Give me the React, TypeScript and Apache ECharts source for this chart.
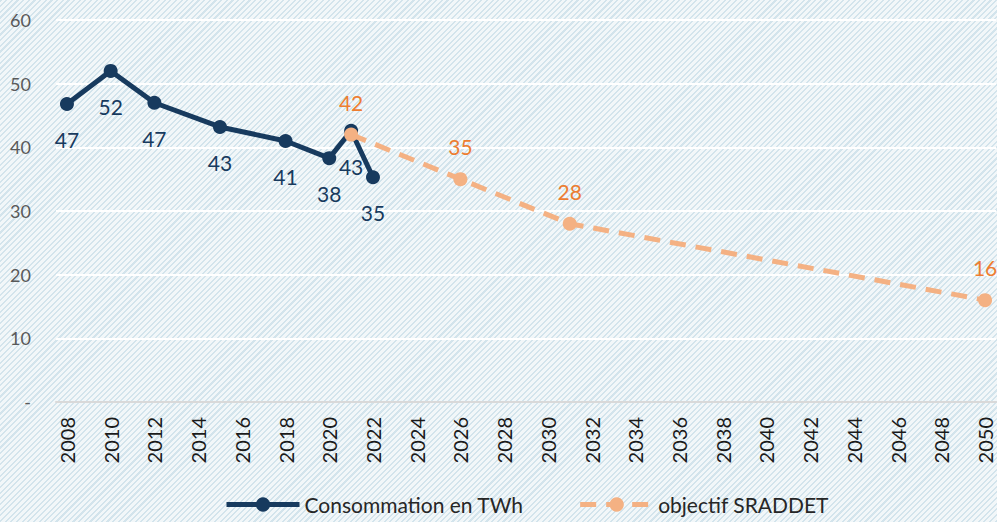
import React, { useEffect, useRef } from "react";
import * as echarts from "echarts";

const years: string[] = [];
for (let y = 2008; y <= 2050; y++) years.push(String(y));

const consoYears = ["2008", "2010", "2012", "2015", "2018", "2020", "2021", "2022"];
const consoValues = [46.8, 52, 47, 43.2, 41, 38.3, 42.6, 35.3];

const objYears = ["2021", "2026", "2031", "2050"];
const objValues = [42, 35, 28, 16];

const NAVY = "#173A5E";
const ORANGE_LINE = "#F4B183";
const ORANGE_TEXT = "#ED7D31";
const FONT = "Lato, 'Liberation Sans', sans-serif";

function toSeries(ys: string[], vs: number[]) {
  return years.map((y) => {
    const i = ys.indexOf(y);
    return i >= 0 ? vs[i] : null;
  });
}

export default function App() {
  const ref = useRef<HTMLDivElement>(null);
  useEffect(() => {
    if (!ref.current) return;
    const chart = echarts.init(ref.current, undefined, { renderer: "svg" });
    chart.setOption({
      animation: false,
      backgroundColor: "transparent",
      textStyle: { fontFamily: FONT },
      grid: { left: 56, right: 1, top: 20, bottom: 120, containLabel: false },
      legend: {
        top: 494,
        left: 224,
        padding: 0,
        itemWidth: 73,
        itemHeight: 18,
        itemGap: 54,
        lineStyle: { width: 5 },
        textStyle: { fontSize: 21, color: "#262626", fontFamily: FONT },
        data: ["Consommation en TWh", "objectif SRADDET"],
      },
      xAxis: {
        type: "category",
        data: years,
        boundaryGap: true,
        axisLine: { show: true, lineStyle: { color: "#D9D9D9", width: 2 } },
        axisTick: { show: false },
        axisLabel: {
          interval: 1,
          rotate: 90,
          fontSize: 20,
          color: "#1a1a1a",
          margin: 15,
          fontFamily: FONT,
        },
      },
      yAxis: {
        type: "value",
        min: 0,
        max: 60,
        interval: 10,
        axisLine: { show: false },
        axisTick: { show: false },
        splitLine: { lineStyle: { color: "#FFFFFF", width: 2 } },
        axisLabel: {
          fontSize: 18,
          color: "#595959",
          margin: 25,
          fontFamily: FONT,
          formatter: (v: number) => (v === 0 ? "-" : String(v)),
        },
      },
      series: [
        {
          name: "Consommation en TWh",
          type: "line",
          data: toSeries(consoYears, consoValues),
          connectNulls: true,
          symbol: "circle",
          symbolSize: 14,
          lineStyle: { color: NAVY, width: 5 },
          itemStyle: { color: NAVY },
          label: {
            show: true,
            position: "bottom",
            distance: 18,
            fontSize: 21,
            color: NAVY,
            fontFamily: FONT,
            formatter: (p: any) => String(Math.round(p.value)),
          },
          z: 2,
        },
        {
          name: "objectif SRADDET",
          type: "line",
          data: toSeries(objYears, objValues),
          connectNulls: true,
          symbol: "circle",
          symbolSize: 14,
          lineStyle: { color: ORANGE_LINE, width: 5, type: [16, 10] },
          itemStyle: { color: ORANGE_LINE },
          label: {
            show: true,
            position: "top",
            distance: 15,
            fontSize: 21,
            color: ORANGE_TEXT,
            fontFamily: FONT,
            formatter: (p: any) => String(Math.round(p.value)),
          },
          z: 3,
        },
      ],
    });
    return () => chart.dispose();
  }, []);
  return (
    <div
      ref={ref}
      style={{
        position: "fixed",
        left: 0,
        top: 0,
        width: 997,
        height: 522,
        background:
          "repeating-linear-gradient(135deg, #d3e4ec 0px, #d3e4ec 1.5px, #f2f7f9 1.5px, #f2f7f9 4px)",
      }}
    />
  );
}
